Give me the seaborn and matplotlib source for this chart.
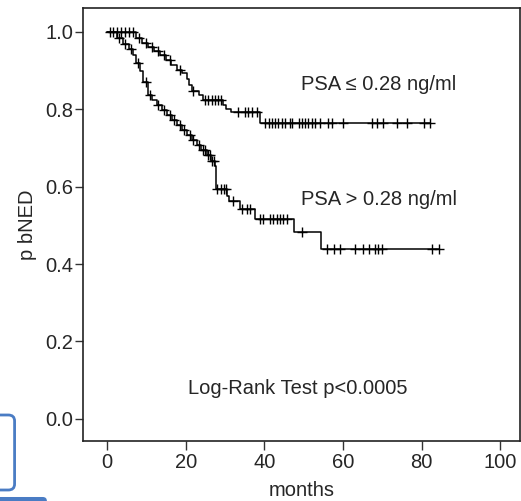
import numpy as np
import pandas as pd
import seaborn as sns
import matplotlib
matplotlib.use("Agg")
import matplotlib.pyplot as plt
from matplotlib.patches import FancyBboxPatch

# PSA <= 0.28 ng/ml : event times (months) and survival after each event
low_times = [0, 7.5, 9.0, 10.5, 12.0, 13.5, 15.0, 16.4, 17.7, 19.2, 20.3, 20.8,
             21.5, 23.5, 24.5, 29.5, 30.2, 31.5, 39.0]
low_surv = [1.0, 0.985, 0.972, 0.960, 0.950, 0.941, 0.928, 0.915, 0.902, 0.893,
            0.878, 0.862, 0.848, 0.836, 0.824, 0.812, 0.802, 0.793, 0.766]
low_cens = [2.5, 3.5, 4.5, 5.5, 6.5, 8.2, 10.0, 11.5, 13.0, 14.5, 16.0, 18.5, 22.0,
            25.0, 25.8, 26.6, 27.5, 28.3, 29.0, 33.4, 35.1, 35.9, 36.8, 38.1, 40.2,
            41.1, 41.9, 42.7, 43.6, 44.4, 45.3, 46.6, 47.0, 48.7, 49.5, 50.4, 51.2,
            52.1, 52.9, 54.2, 56.3, 57.2, 60.1, 67.4, 68.6, 70.3, 73.7, 76.3, 80.5,
            82.2]

# PSA > 0.28 ng/ml
high_times = [0, 2.5, 4.0, 5.5, 6.7, 7.5, 8.4, 9.2, 10.5, 11.5, 12.6, 14.0, 15.2,
              16.5, 17.7, 19.0, 20.3, 21.5, 22.8, 24.0, 25.4, 26.5, 27.5, 27.7,
              30.5, 31.0, 33.8, 37.7, 47.6, 54.4]
high_surv = [1.0, 0.984, 0.970, 0.955, 0.941, 0.920, 0.898, 0.872, 0.837, 0.825,
             0.811, 0.798, 0.785, 0.772, 0.759, 0.746, 0.733, 0.720, 0.707, 0.694,
             0.681, 0.667, 0.654, 0.594, 0.576, 0.563, 0.542, 0.516, 0.483, 0.439]
high_cens = [0.8, 1.5, 3.0, 4.5, 6.0, 8.0, 10.0, 11.0, 13.0, 14.5, 16.0, 17.0, 18.5,
             19.5, 21.0, 22.0, 23.5, 24.5, 25.0, 25.8, 26.2, 26.8, 27.2, 28.0, 29.0,
             29.8, 30.2, 32.0, 34.3, 35.5, 36.4, 38.9, 39.7, 41.5, 42.2, 43.3, 44.0,
             44.8, 45.8, 49.5, 55.9, 57.6, 59.3, 63.1, 65.2, 66.5, 68.2, 68.8, 69.9,
             82.6, 84.3]

groups = ["PSA \u2264 0.28 ng/ml", "PSA > 0.28 ng/ml"]


def curve_frame(times, surv, cens, name):
    t = list(times) + [max(cens)]
    s = list(surv) + [surv[-1]]
    line = pd.DataFrame({"months": t, "p": s, "group": name})
    idx = np.searchsorted(times, cens, side="right") - 1
    marks = pd.DataFrame({"months": cens, "p": np.asarray(surv)[idx], "group": name})
    return line, marks


l1, m1 = curve_frame(low_times, low_surv, low_cens, groups[0])
l2, m2 = curve_frame(high_times, high_surv, high_cens, groups[1])
lines = pd.concat([l1, l2])
marks = pd.concat([m1, m2])

sns.set_style("ticks")
plt.rcParams["font.family"] = ["Liberation Sans", "DejaVu Sans"]

fig = plt.figure(figsize=(5.21, 5.01), dpi=100)
ax = fig.add_axes([0.16, 0.12, 0.838, 0.864])

sns.lineplot(data=lines, x="months", y="p", hue="group", units="group",
             estimator=None, drawstyle="steps-post", palette=["black", "black"],
             linewidth=1.1, legend=False, ax=ax, sort=False)
sns.scatterplot(data=marks, x="months", y="p", marker="+", color="black",
                s=55, linewidth=1.0, legend=False, ax=ax, zorder=3)

ax.set_xlim(-6, 105)
ax.set_ylim(-0.057, 1.062)
ax.set_xticks([0, 20, 40, 60, 80, 100])
ax.set_yticks([0.0, 0.2, 0.4, 0.6, 0.8, 1.0])
ax.set_yticklabels(["0.0", "0.2", "0.4", "0.6", "0.8", "1.0"])
ax.tick_params(labelsize=14.5, length=6.5, width=1, pad=2, color="#333333")
ax.tick_params(axis="y", length=5.5)
ax.set_xlabel("months", fontsize=14.5, labelpad=7)
ax.set_ylabel("p bNED", fontsize=14.5, labelpad=6)
for sp in ax.spines.values():
    sp.set_linewidth(1.2)
    sp.set_color("#222222")

ax.text(49.4, 0.865, groups[0], fontsize=14.5, va="center", ha="left")
ax.text(49.4, 0.567, groups[1], fontsize=14.5, va="center", ha="left")
ax.text(48.6, 0.078, "Log-Rank Test p<0.0005", fontsize=14.5, va="center", ha="center")

# blue screenshot artefacts at the lower left
fig.patches.append(FancyBboxPatch((-0.02, 1 - 490 / 501), 0.048, 75 / 501,
                                  boxstyle="round,pad=0,rounding_size=0.012",
                                  transform=fig.transFigure, fill=False,
                                  edgecolor="#4a7cc4", linewidth=2, figure=fig))
fig.patches.append(FancyBboxPatch((-0.02, -0.01), 0.11, 0.018,
                                  boxstyle="round,pad=0,rounding_size=0.008",
                                  transform=fig.transFigure, facecolor="#4a7cc4",
                                  edgecolor="none", figure=fig))

fig.savefig("out.png", dpi=100)
